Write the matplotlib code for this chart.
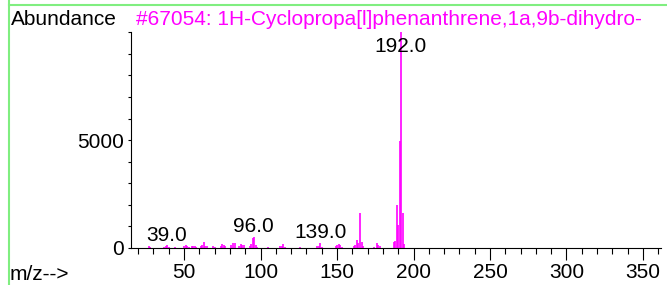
import numpy as np
import matplotlib
matplotlib.use('Agg')
import matplotlib.pyplot as plt
from matplotlib.ticker import MultipleLocator, FixedLocator
from matplotlib.lines import Line2D

plt.rcParams['font.family'] = ['Liberation Sans', 'DejaVu Sans']

title = '#67054: 1H-Cyclopropa[l]phenanthrene,1a,9b-dihydro-'

mz = [27, 28, 37, 38, 39, 40, 44, 50, 51, 52, 53, 55, 56, 57, 58, 61, 62, 63,
      64, 65, 69, 70, 74, 75, 76, 77, 81, 82, 83, 86, 87, 88, 89, 93, 94, 95,
      96, 97, 98, 105, 113, 114, 115, 116, 126, 137, 138, 139, 140, 149, 150,
      151, 152, 153, 161, 162, 163, 164, 165, 166, 167, 174, 176, 177, 178,
      187, 188, 189, 190, 191, 192, 193, 194]
abundance = [60, 40, 50, 80, 110, 40, 40, 100, 120, 60, 40, 60, 80, 90, 40, 60,
             120, 260, 80, 60, 60, 40, 100, 150, 140, 80, 120, 220, 200, 80, 150,
             130, 120, 60, 150, 450, 520, 120, 40, 40, 60, 80, 160, 50, 50, 60,
             80, 230, 50, 60, 140, 180, 120, 50, 80, 120, 380, 200, 1620, 250,
             60, 50, 220, 110, 80, 280, 300, 2000, 1070, 4950, 9999, 1600, 150]

y_ticks = [0, 5000]

# peak labels: (text, m/z, baseline abundance)
labels = [('39.0', 38.8, 310), ('96.0', 95.5, 715), ('139.0', 139.0, 436),
          ('192.0', 191.5, 9110)]

fig = plt.figure(figsize=(6.67, 2.85), dpi=100)
ax = fig.add_axes([131/667, 1-247.7/285, (661-131)/667, (247.7-32)/285])

ax.vlines(mz, 0, abundance, colors='#ff00ff', lw=1.2)
for t, x, y in labels:
    ax.text(x, y, t, ha='center', va='baseline', fontsize=15, color='black')

ax.set_xlim(15.3, 361.8)
ax.set_ylim(0, 10020)
for s in ['top', 'right']:
    ax.spines[s].set_visible(False)
ax.spines['left'].set_linewidth(0.8)
ax.spines['bottom'].set_linewidth(0.8)

ax.xaxis.set_major_locator(MultipleLocator(50))
ax.xaxis.set_minor_locator(MultipleLocator(10))
ax.yaxis.set_major_locator(FixedLocator(y_ticks))
ax.yaxis.set_minor_locator(MultipleLocator(1000))
ax.tick_params(axis='x', which='major', length=8.4, width=0.8, pad=2.5, labelsize=15)
ax.tick_params(axis='x', which='minor', length=4, width=0.8)
ax.tick_params(axis='y', which='both', length=2.5, width=0.8, pad=2.5, labelsize=15)

fig.text(11/667, 1-25/285, 'Abundance', fontsize=15, va='baseline', ha='left')
fig.text(136/667, 1-25/285, title, fontsize=15, va='baseline', ha='left', color='#ff00ff')
fig.text(10/667, 1-280/285, 'm/z-->', fontsize=15, va='baseline', ha='left')

# green frame
fig.add_artist(Line2D([9/667, 9/667], [0, 1], color='#80ee80', lw=1.5))
fig.add_artist(Line2D([9/667, 1], [1-5/285, 1-5/285], color='#80ee80', lw=1.5))

fig.savefig('out.png', dpi=100)
